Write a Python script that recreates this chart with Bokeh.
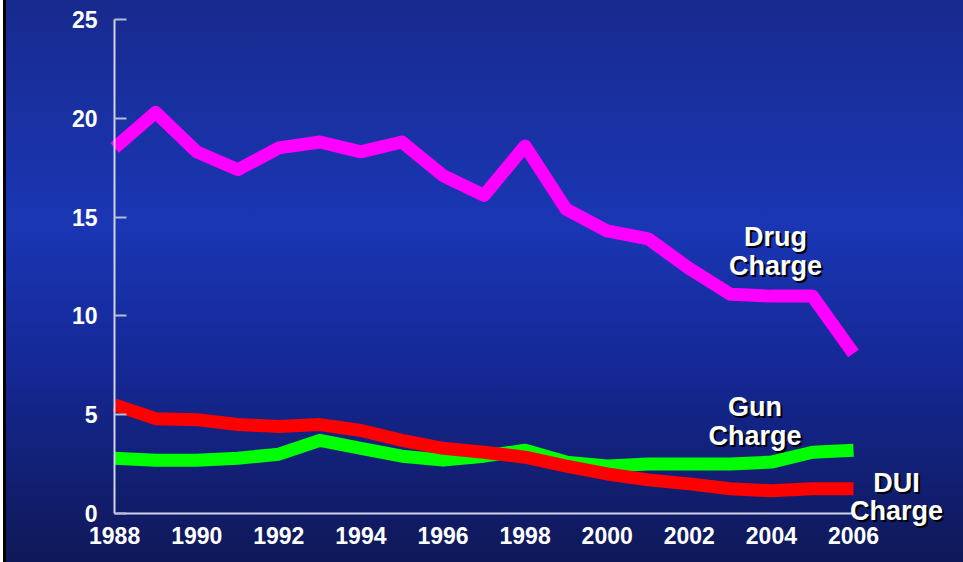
from bokeh.plotting import figure
from bokeh.models import ColumnDataSource, FixedTicker, Range1d, Label
from bokeh.embed import file_html
from bokeh.resources import INLINE

years = list(range(1988, 2007))
drug = [18.5, 20.3, 18.3, 17.4, 18.5, 18.8, 18.3, 18.8, 17.1, 16.1, 18.6,
        15.4, 14.3, 13.9, 12.4, 11.1, 11.0, 11.0, 8.1]
gun = [2.8, 2.7, 2.7, 2.8, 3.0, 3.7, 3.3, 2.9, 2.7, 2.9, 3.2,
       2.6, 2.4, 2.5, 2.5, 2.5, 2.6, 3.1, 3.2]
dui = [5.5, 4.8, 4.75, 4.5, 4.4, 4.5, 4.2, 3.7, 3.3, 3.1, 2.85,
       2.4, 2.0, 1.7, 1.5, 1.25, 1.15, 1.25, 1.25]
x_ticks = list(range(1988, 2007, 2))
y_ticks = [0, 5, 10, 15, 20, 25]

labels = ["Drug\nCharge", "Gun\nCharge", "DUI\nCharge"]
label_x = [2004.1, 2003.6, 2007.05]
label_y = [13.26, 4.66, 0.84]

p = figure(width=963, height=562, output_backend="svg", toolbar_location=None,
           x_range=Range1d(1985.22, 2008.68), y_range=Range1d(-2.48, 25.96),
           min_border_left=0, min_border_right=0, min_border_top=0,
           min_border_bottom=0)
p.styles = {"background": "linear-gradient(to right, #ffffff 0px, #ffffff 3px, #000000 3px, #000000 6px, rgba(0,0,0,0) 6px), "
                          "linear-gradient(to bottom, #172a8e 0%, #1a36b4 40%, #152896 65%, #0f1858 100%)"}
p.background_fill_alpha = 0
p.border_fill_alpha = 0
p.outline_line_color = None
p.grid.visible = False

src = ColumnDataSource(dict(year=years, drug=drug, gun=gun, dui=dui))
p.line("year", "drug", source=src, line_color="#ff00ff", line_width=13,
       line_join="round", line_cap="butt")
p.line("year", "gun", source=src, line_color="#00ff00", line_width=13,
       line_join="round", line_cap="butt")
p.line("year", "dui", source=src, line_color="#ff0000", line_width=13,
       line_join="round", line_cap="butt")

for t, lx, ly in zip(labels, label_x, label_y):
    for col, dx, dy in [("#000000", 2, -2), ("#ffffff", 0, 0)]:
        p.add_layout(Label(x=lx, y=ly, text=t, x_offset=dx, y_offset=dy,
                           text_color=col, text_font="Liberation Sans",
                           text_font_style="bold", text_font_size="27px",
                           text_align="center", text_baseline="middle",
                           text_line_height=0.95))

for ax in (p.xaxis[0], p.yaxis[0]):
    ax.axis_line_color = "#d0d4e8"
    ax.axis_line_width = 2
    ax.major_label_text_color = "white"
    ax.major_label_text_font = "Liberation Sans"
    ax.major_label_text_font_style = "bold"
    ax.major_label_text_font_size = "23px"
    ax.minor_tick_line_color = None

p.xaxis.ticker = FixedTicker(ticks=x_ticks)
p.xaxis.bounds = (1988, 2006)
p.xaxis.fixed_location = 0
p.xaxis.major_tick_line_color = None
p.xaxis.major_label_standoff = 8

p.yaxis.ticker = FixedTicker(ticks=y_ticks)
p.yaxis.bounds = (0, 25)
p.yaxis.fixed_location = 1988
p.yaxis.major_tick_in = 12
p.yaxis.major_tick_out = 0
p.yaxis.major_tick_line_color = "#b8bcd8"
p.yaxis.major_tick_line_width = 2
p.yaxis.major_label_standoff = 17

open("out.html", "w").write(file_html(p, INLINE))
